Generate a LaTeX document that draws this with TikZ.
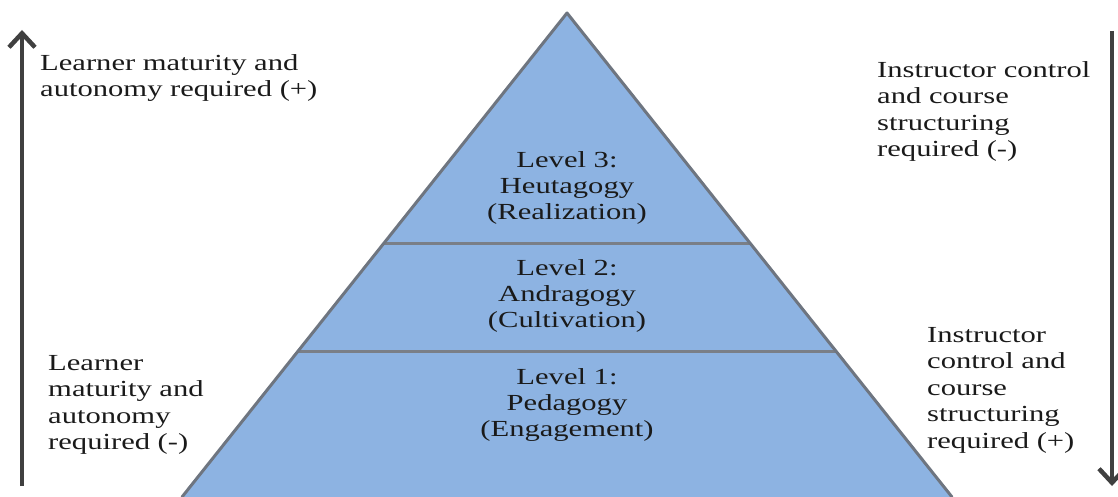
\documentclass[tikz,border=0pt]{standalone}
\usepackage{fontspec}
\setmainfont{Liberation Serif}[FakeStretch=1.33]
\usetikzlibrary{arrows.meta}
\definecolor{pyrfill}{HTML}{8DB3E2}
\definecolor{pyredge}{HTML}{6E7580}
\definecolor{divline}{HTML}{7A7F87}
\definecolor{arrowgray}{HTML}{404040}
\definecolor{txt}{HTML}{1A1A1A}
\begin{document}
\begin{tikzpicture}[x=1pt,y=-1pt,
  lbl/.style={inner sep=0pt, font=\fontsize{23}{26.5}\selectfont, text=txt, align=left, anchor=north west},
  lvl/.style={inner sep=0pt, font=\fontsize{23}{26.3}\selectfont, text=txt, align=center, anchor=north},
  bigarrow/.style={draw=arrowgray, line width=4.5pt, -{Straight Barb[length=14pt,width=26pt,line width=4.5pt]}},
  pyrside/.style={draw=pyredge, line width=3pt, line join=round, line cap=round},
  divider/.style={draw=divline, line width=3pt}]
\useasboundingbox (0,0) rectangle (1118,497);
% pyramid
\coordinate (apex) at (567,13);
\coordinate (baseL) at (182,497);
\coordinate (baseR) at (952,497);
\coordinate (d1L) at (384,243);
\coordinate (d1R) at (750,243);
\coordinate (d2L) at (298,351);
\coordinate (d2R) at (836,351);
\fill[pyrfill] (baseL) -- (apex) -- (baseR) -- cycle;
\draw[divider] (d1L) -- (d1R);
\draw[divider] (d2L) -- (d2R);
\draw[pyrside] (baseL) -- (apex) -- (baseR);
% level texts
\node[lvl] (lev3) at (567,151) {Level 3:\\Heutagogy\\(Realization)};
\node[lvl] (lev2) at (567,259) {Level 2:\\Andragogy\\(Cultivation)};
\node[lvl] (lev1) at (567,368) {Level 1:\\Pedagogy\\(Engagement)};
% arrows
\coordinate (upS) at (22,486);
\coordinate (upE) at (22,30);
\coordinate (dnS) at (1112,31);
\coordinate (dnE) at (1112,486);
\draw[bigarrow] (upS) -- (upE);
\draw[bigarrow] (dnS) -- (dnE);
% side texts
\node[lbl] (ltop) at (40,54) {Learner maturity and\\autonomy required (+)};
\node[lbl] (rtop) at (877,61) {Instructor control\\and course\\structuring\\required (-)};
\node[lbl] (lbot) at (48,355) {Learner\\maturity and\\autonomy\\required (-)};
\node[lbl] (rbot) at (927,327) {Instructor\\control and\\course\\structuring\\required (+)};
\end{tikzpicture}
\end{document}
